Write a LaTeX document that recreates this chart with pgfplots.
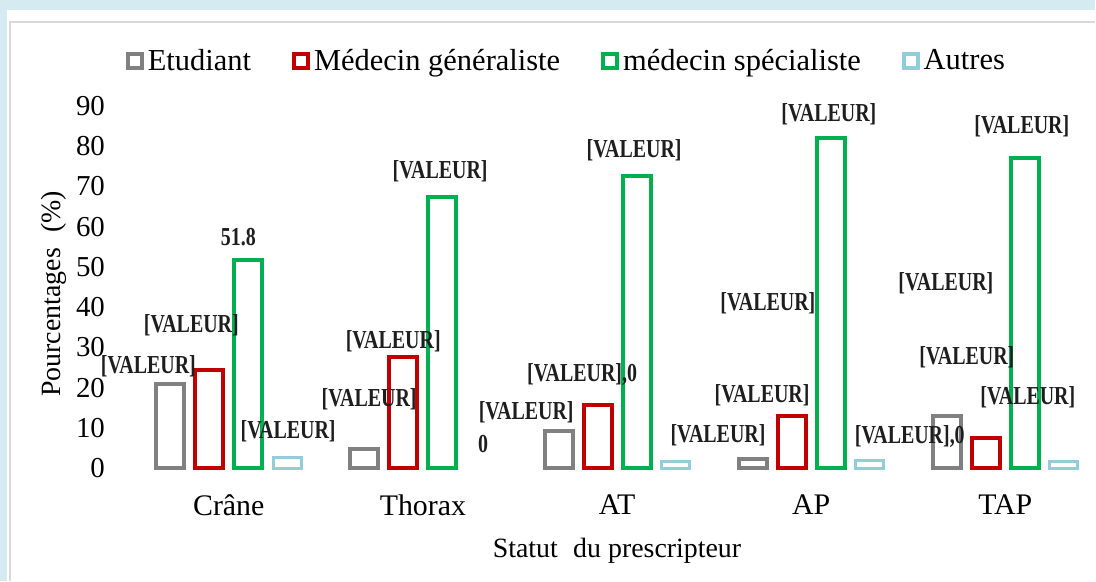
\documentclass[border=0pt]{standalone}
\usepackage{fontspec}
\setmainfont{Liberation Serif}
\newfontfamily\labfont[FakeStretch=0.77]{Liberation Serif}
\usepackage{pgfplots}
\pgfplotsset{compat=1.18}
\definecolor{bgblue}{RGB}{214,235,241}
\definecolor{cgray}{RGB}{128,128,128}
\definecolor{cred}{RGB}{192,0,0}
\definecolor{cgreen}{RGB}{0,176,80}
\definecolor{cblue}{RGB}{146,205,220}
\definecolor{frameg}{RGB}{217,217,217}
\definecolor{labc}{RGB}{30,30,30}
\newcommand{\lab}[1]{{\labfont\bfseries\fontsize{13}{13}\selectfont #1}}
\begin{document}
\begin{tikzpicture}
\fill[bgblue] (0,0) rectangle (548bp,290.5bp);
\fill[white] (3.5bp,0) rectangle (548bp,285.5bp);
\draw[frameg, line width=0.75bp] (5bp,0) -- (5bp,279.5bp) -- (548bp,279.5bp);
\begin{axis}[
  at={(59bp,56.25bp)}, anchor=south west,
  scale only axis, width=487.7bp, height=181.25bp,
  xmin=-0.571, xmax=4.45, ymin=0, ymax=90,
  clip=false,
  axis line style={draw=none},
  major tick style={draw=none},
  major tick length=0pt,
  xtick={0,1,2,3,4},
  xticklabels={Crâne,Thorax,AT,AP,TAP},
  ytick={0,10,...,90},
  /pgf/number format/assume math mode=true,
  yticklabel style={font=\fontsize{14.5}{14.5}\selectfont, anchor=east, xshift=-3bp},
  xticklabel style={font=\fontsize{15}{15}\selectfont, anchor=north, yshift=-10bp},
  ybar, bar width=14bp,
  legend columns=4,
  legend style={draw=none, fill=none, at={(rel axis cs:0.0082,1.124)}, anchor=west,
    inner sep=0pt, outer sep=0pt,
    font=\fontsize{15.3}{15.3}\selectfont,
    /tikz/every even column/.append style={column sep=18.5bp}},
  legend cell align=left,
]
\addplot[draw=cgray, fill=white, line width=2bp, bar shift=-29.25bp,
  legend image code/.code={\draw[cgray,line width=2bp,fill=white] (0bp,-3.5bp) rectangle (7bp,3.5bp);}]
  coordinates {(0,21.0) (1,4.8) (2,9.3) (3,2.3) (4,13.0)};
\addplot[draw=cred, fill=white, line width=2bp, bar shift=-9.75bp,
  legend image code/.code={\draw[cred,line width=2bp,fill=white] (0bp,-3.5bp) rectangle (7bp,3.5bp);}]
  coordinates {(0,24.5) (1,27.6) (2,15.7) (3,13.0) (4,7.5)};
\addplot[draw=cgreen, fill=white, line width=2bp, bar shift=9.75bp,
  legend image code/.code={\draw[cgreen,line width=2bp,fill=white] (0bp,-3.5bp) rectangle (7bp,3.5bp);}]
  coordinates {(0,51.8) (1,67.3) (2,72.5) (3,82.0) (4,77.0)};
\addplot[draw=cblue, fill=white, line width=1.6bp, bar shift=29.25bp,
  legend image code/.code={\draw[cblue,line width=2bp,fill=white] (0bp,-3.5bp) rectangle (7bp,3.5bp);}]
  coordinates {(0,2.7) (2,1.6) (3,2.0) (4,1.6)};
\legend{Etudiant, Médecin généraliste, médecin spécialiste, Autres}
% data labels
\node[labc] at (axis cs:-0.414,25.2) {\lab{[VALEUR]}};
\node[labc] at (axis cs:-0.193,35.6) {\lab{[VALEUR]}};
\node[labc] at (axis cs:0.049,57.4) {\lab{51.8}};
\node[labc] at (axis cs:0.306,9.05) {\lab{[VALEUR]}};
\node[labc] at (axis cs:0.723,17.2) {\lab{[VALEUR]}};
\node[labc] at (axis cs:0.847,31.6) {\lab{[VALEUR]}};
\node[labc] at (axis cs:1.089,73.8) {\lab{[VALEUR]}};
\node[labc] at (axis cs:1.310,6.1) {\lab{0}};
\node[labc] at (axis cs:1.532,14.0) {\lab{[VALEUR]}};
\node[labc] at (axis cs:1.820,23.3) {\lab{[VALEUR],0}};
\node[labc] at (axis cs:2.088,79.0) {\lab{[VALEUR]}};
\node[labc] at (axis cs:2.520,8.1) {\lab{[VALEUR]}};
\node[labc] at (axis cs:2.747,18.0) {\lab{[VALEUR]}};
\node[labc] at (axis cs:2.777,41.0) {\lab{[VALEUR]}};
\node[labc] at (axis cs:3.091,87.9) {\lab{[VALEUR]}};
\node[labc] at (axis cs:3.508,7.8) {\lab{[VALEUR],0}};
\node[labc] at (axis cs:3.694,46.0) {\lab{[VALEUR]}};
\node[labc] at (axis cs:3.802,27.6) {\lab{[VALEUR]}};
\node[labc] at (axis cs:4.116,17.5) {\lab{[VALEUR]}};
\node[labc] at (axis cs:4.085,84.9) {\lab{[VALEUR]}};
% axis titles
\node[rotate=90, font=\fontsize{14}{14}\selectfont] at (axis cs:-0.90,43.3) {Pourcentages\hspace{0.3em} (\%)};
\node[font=\fontsize{14}{14}\selectfont] at (axis cs:2,0) [yshift=-41.5bp] {Statut\hspace{0.3em} du prescripteur};
\end{axis}
\end{tikzpicture}
\end{document}
